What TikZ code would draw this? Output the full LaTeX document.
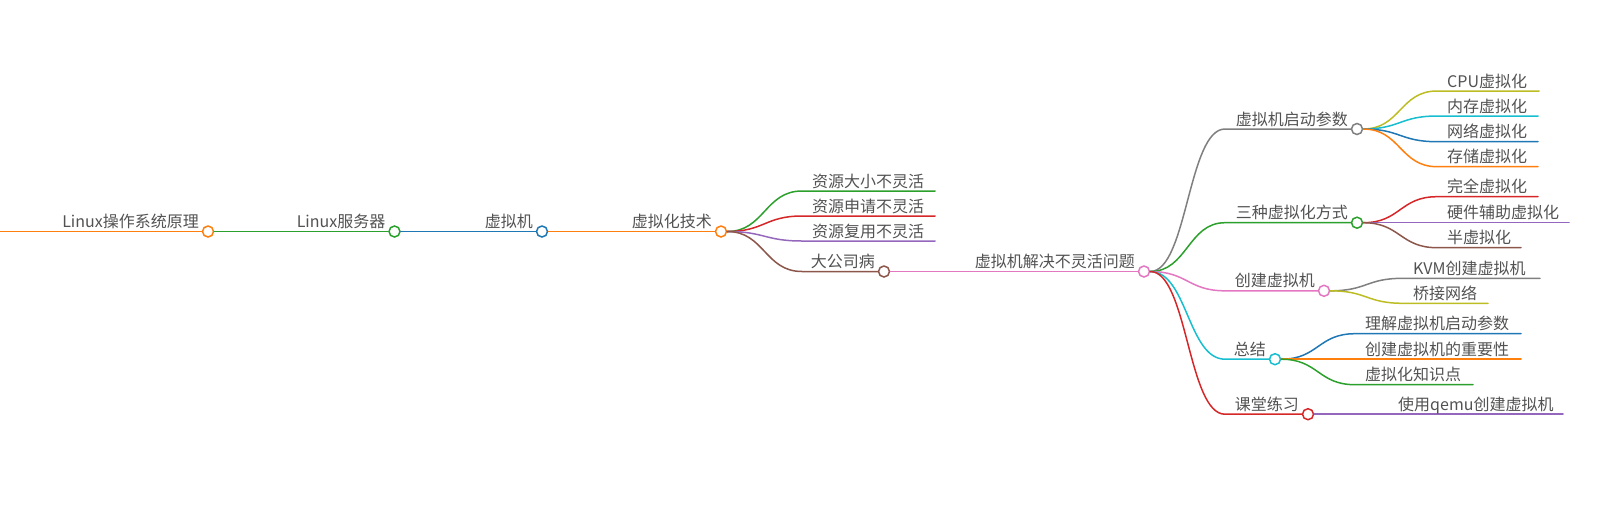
\documentclass[tikz,border=0pt]{standalone}
\usepackage{fontspec}
\setmainfont{Noto Sans CJK SC}
\usepackage{tikz}
\usetikzlibrary{positioning}
\definecolor{mmblue}{HTML}{1F77B4}
\definecolor{mmorange}{HTML}{FF7F0E}
\definecolor{mmgreen}{HTML}{2CA02C}
\definecolor{mmred}{HTML}{D62728}
\definecolor{mmpurple}{HTML}{9467BD}
\definecolor{mmbrown}{HTML}{8C564B}
\definecolor{mmpink}{HTML}{E377C2}
\definecolor{mmgray}{HTML}{7F7F7F}
\definecolor{mmolive}{HTML}{BCBD22}
\definecolor{mmcyan}{HTML}{17BECF}
\tikzstyle{branch}=[line width=1.5pt,line cap=round]
\tikzset{
  knot/.style={circle,draw=#1,fill=white,line width=1.5pt,
               minimum size=11pt,inner sep=0pt}}
\tikzstyle{mmtext}=[text=black!68,font=\fontsize{16}{19}\selectfont,inner sep=0pt]
\tikzstyle{knottext}=[mmtext,anchor=base east]
\tikzstyle{leaftext}=[mmtext,anchor=base west]

\begin{document}
\begin{tikzpicture}[x=1pt,y=-1pt]
  \def\bend{37}
  \useasboundingbox (0,0) rectangle (1606,507);

  % KNOTS
  \coordinate (r0) at (0,231.5);
  \node[knot=mmorange] (c1) at (208,231.5) {};
  \node[knot=mmgreen] (c2) at (394.5,231.5) {};
  \node[knot=mmblue] (c3) at (542,231.5) {};
  \node[knot=mmorange] (c4) at (721,231.5) {};
  \node[knot=mmbrown] (c5) at (884,271.5) {};
  \node[knot=mmpink] (c6) at (1144,271.5) {};
  \node[knot=mmgray] (c7) at (1357,129) {};
  \node[knot=mmgreen] (c8) at (1357,222.7) {};
  \node[knot=mmpink] (c9) at (1324,290.8) {};
  \node[knot=mmcyan] (c10) at (1275,359.2) {};
  \node[knot=mmred] (c11) at (1308,414.2) {};

  % KNOT TEXTS
  \foreach \k/\txt in {c1/Linux操作系统原理,c2/Linux服务器,c3/虚拟机,
                       c4/虚拟化技术,c5/大公司病,c6/虚拟机解决不灵活问题,
                       c7/虚拟机启动参数,c8/三种虚拟化方式,c9/创建虚拟机,
                       c10/总结,c11/课堂练习}{
    \node[knottext] (t\k) at ([xshift=-9pt,yshift=4pt]\k.center) {\txt};
  }

  % TRUNK
  \draw[branch,mmorange] (r0) -- (c1.west);
  \draw[branch,mmgreen] (c1.east) -- (c2.west);
  \draw[branch,mmblue] (c2.east) -- (c3.west);
  \draw[branch,mmorange] (c3.east) -- (c4.west);

  % VIRTUALISATION
  \foreach \n/\yy/\xe/\col/\txt in {a/191/935/mmgreen/资源大小不灵活,
                                    b/216/935/mmred/资源申请不灵活,
                                    c/241/935/mmpurple/资源复用不灵活}{
    \coordinate (h\n) at (802,\yy);
    \coordinate (e\n) at (\xe,\yy);
    \draw[branch,\col] (c4.east) .. controls +(\bend,0) and +(-\bend,0) .. (h\n) -- (e\n);
    \node[leaftext] (l\n) at ([xshift=10pt,yshift=4pt]h\n) {\txt};
  }
  \coordinate (h5) at (802,271.5);
  \draw[branch,mmbrown] (c4.east) .. controls +(\bend,0) and +(-\bend,0) .. (h5) -- (c5.west);
  \draw[branch,mmpink] (c5.east) -- (c6.west);

  % PROBLEMS
  \foreach \k/\col in {c7/mmgray,c8/mmgreen,c9/mmpink,c10/mmcyan,c11/mmred}{
    \coordinate (h\k) at (1225,0 |- \k);
    \draw[branch,\col] (c6.east) .. controls +(\bend,0) and +(-\bend,0) .. (h\k) -- (\k.west);
  }

  % LEAVES
  \foreach \p/\hx/\n/\yy/\xe/\col/\txt in {
      c7/1437/d/91/1539/mmolive/CPU虚拟化,
      c7/1437/e/116/1538/mmcyan/内存虚拟化,
      c7/1437/f/141.7/1538/mmblue/网络虚拟化,
      c7/1437/g/166.7/1538/mmorange/存储虚拟化,
      c8/1437/h/196.7/1538/mmred/完全虚拟化,
      c8/1437/i/222.7/1569/mmpurple/硬件辅助虚拟化,
      c8/1437/j/247.7/1521/mmbrown/半虚拟化,
      c9/1403/k/278.3/1540/mmgray/KVM创建虚拟机,
      c9/1403/l/303.3/1488/mmolive/桥接网络,
      c10/1355/m/333.7/1521/mmblue/理解虚拟机启动参数,
      c10/1355/n/359.2/1521/mmorange/创建虚拟机的重要性,
      c10/1355/o/384.7/1473/mmgreen/虚拟化知识点,
      c11/1388/q/414.2/1563/mmpurple/使用qemu创建虚拟机}{
    \coordinate (h\n) at (\hx,\yy);
    \coordinate (e\n) at (\xe,\yy);
    \draw[branch,\col] (\p.east) .. controls +(\bend,0) and +(-\bend,0) .. (h\n) -- (e\n);
    \node[leaftext] (l\n) at ([xshift=10pt,yshift=4pt]h\n) {\txt};
  }

\end{tikzpicture}
\end{document}
